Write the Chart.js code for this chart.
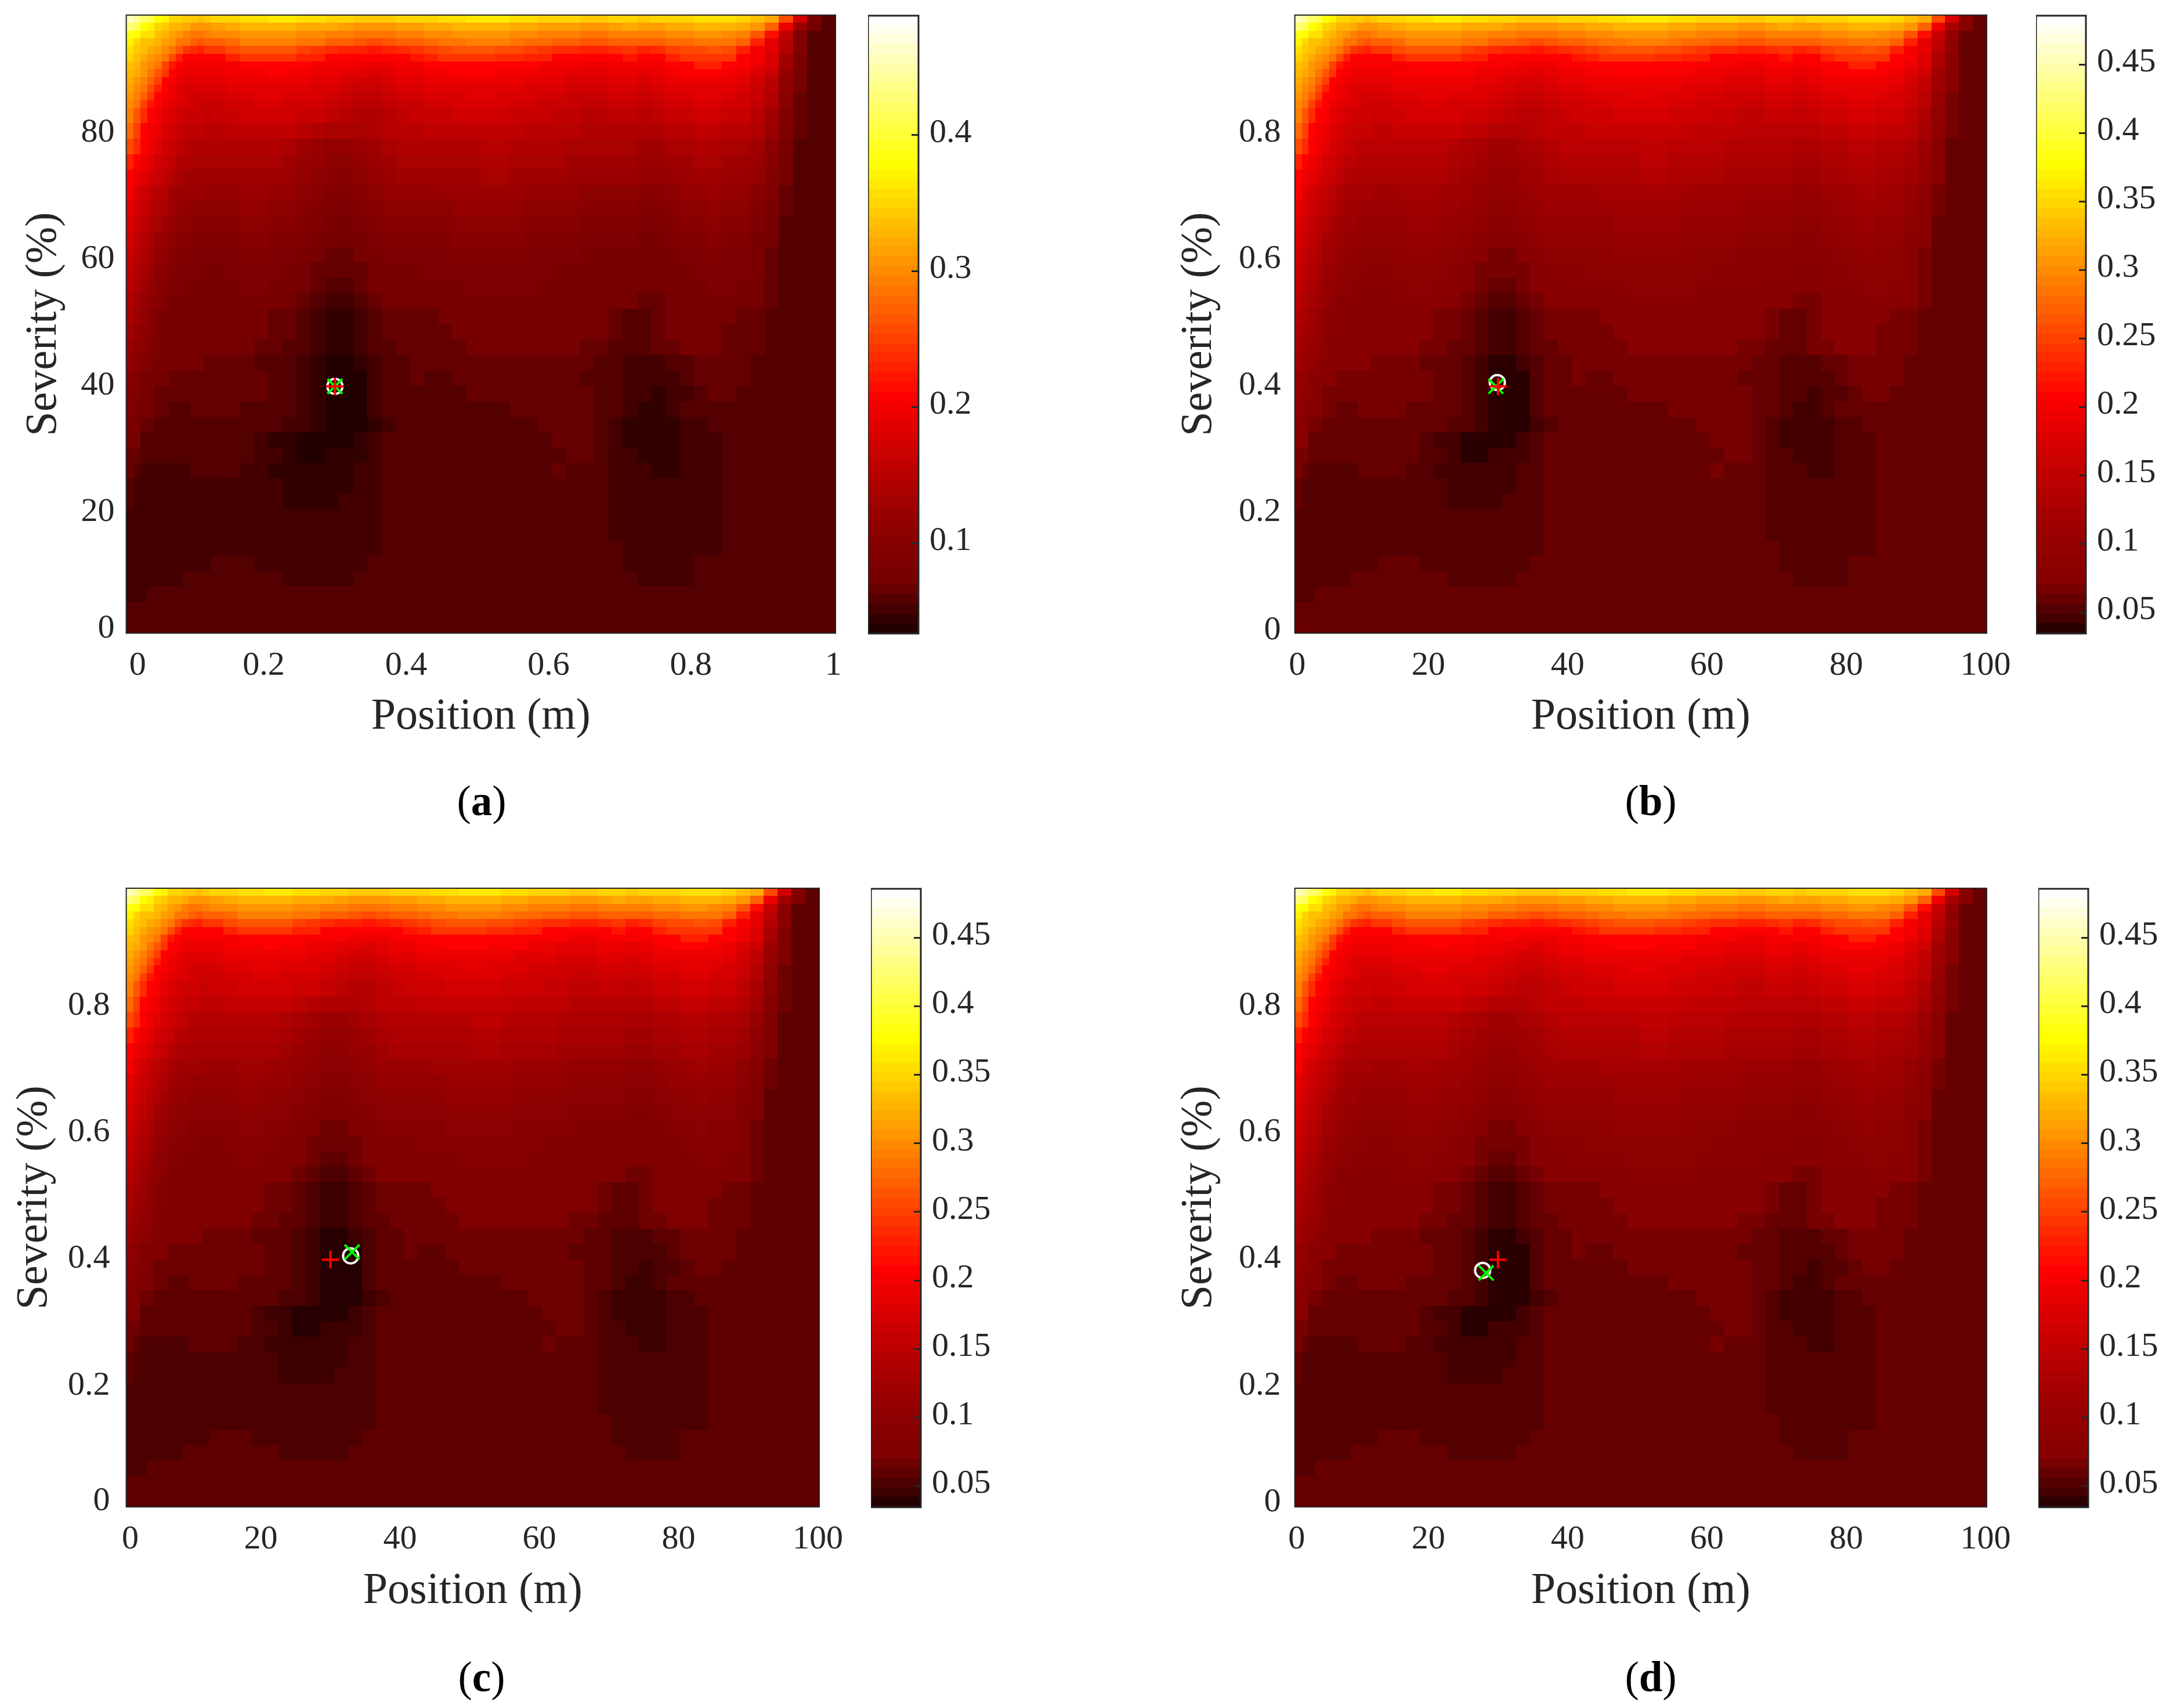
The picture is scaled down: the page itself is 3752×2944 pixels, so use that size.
<!DOCTYPE html>
<html><head><meta charset="utf-8">
<style>
html,body{margin:0;padding:0;background:#fff}
body{position:relative;width:3752px;height:2944px;overflow:hidden}
canvas{position:absolute}
.cap{position:absolute;transform:translate(-50%,-50%);font:73px "Liberation Serif",serif;color:#000}
</style>
<script src="https://cdn.jsdelivr.net/npm/chart.js@4/dist/chart.umd.min.js"></script>
</head><body>
<script>
// Grid column / row boundaries, in original heat-map cells (100 x 80).
const columnEnds=[1,2,3,4,5,6,7,8,9,10,11,12,14,16,18,20,22,24,26,28,30,32,34,36,38,40,42,44,46,48,50,52,54,56,58,60,62,64,66,68,70,72,74,76,78,80,82,84,86,88,90,92,94,96,98,100];
const rowEnds=[1,2,3,4,5,6,7,8,9,10,11,12,14,16,18,20,22,24,26,28,30,32,34,36,38,40,42,44,46,48,50,52,54,56,58,60,62,64,66,68,70,72,74,76,78,80];
const errorLevels=[
[59,57,54,53,48,47,44,44,43,43,42,43, 44,44,45,45,46,46,45,45,44,44,43,43,43,44, 44,44,45,45,46,46,46,45,45,44,44,44,43,43,44,44, 43,44,44,44,45,45,45,44,42,40,31,19,6,3],
[55,53,48,47,44,43,41,41,40,38,38,38, 39,40,41,41,41,41,40,40,40,39,38,38,38,39, 39,40,40,41,41,41,41,40,40,39,39,39,38,38,39,40, 39,39,40,40,41,41,41,40,38,33,22,12,5,3],
[49,48,45,45,42,41,39,38,36,35,35,36, 37,37,38,38,38,38,37,37,36,36,35,35,35,36, 36,37,37,38,38,38,38,37,37,36,36,36,35,35,36,36, 36,36,37,37,38,38,37,36,32,25,17,8,3,3],
[47,44,42,42,41,39,38,35,35,33,32,33, 33,34,36,36,36,36,35,35,33,33,32,31,32,33, 33,34,35,35,36,36,36,35,34,34,33,33,32,32,33,33, 33,33,34,34,35,35,35,33,27,21,16,7,3,3],
[45,43,42,40,39,37,35,32,29,28,27,29, 29,31,32,32,32,32,30,29,28,27,27,26,27,28, 29,30,31,32,32,32,31,31,30,29,28,28,27,27,28,29, 27,28,30,31,31,32,31,27,23,21,15,8,3,3],
[44,42,40,38,37,35,31,27,24,24,24,24, 24,27,29,29,29,29,27,27,24,24,24,24,24,24, 26,27,29,29,29,29,28,28,27,27,24,24,24,24,24,26, 24,24,27,29,29,29,29,24,23,20,13,6,3,3],
[42,41,38,37,35,30,26,24,23,23,23,23, 23,23,24,24,24,24,24,23,23,23,22,22,22,23, 23,24,24,24,24,24,24,24,24,23,23,23,22,22,23,23, 23,23,24,24,27,27,24,24,22,20,13,6,3,3],
[41,40,38,35,32,29,24,23,22,22,22,22, 22,23,23,23,24,23,23,22,22,21,21,20,21,22, 22,23,23,24,24,24,23,23,23,22,22,21,21,21,22,22, 21,22,23,24,24,24,23,22,20,18,11,6,3,3],
[40,38,36,33,30,24,23,22,21,21,21,21, 21,22,22,22,22,22,22,21,21,20,19,19,20,21, 21,22,22,22,22,22,22,22,21,21,21,20,20,20,21,21, 20,21,22,22,22,22,22,21,19,16,10,5,3,3],
[39,37,35,31,27,24,22,21,20,20,20,20, 20,21,21,21,21,21,21,20,20,19,18,18,19,20, 20,21,21,21,21,21,21,21,20,20,20,19,19,19,20,20, 19,20,21,21,21,21,21,20,18,16,10,5,3,3],
[38,36,33,29,24,23,22,21,20,19,19,19, 19,20,20,21,21,20,20,20,19,18,17,17,18,19, 19,20,20,20,21,21,20,20,20,19,19,18,18,18,19,19, 18,19,20,20,21,21,20,19,18,15,9,4,3,3],
[37,35,30,26,24,22,21,20,20,19,18,18, 18,19,19,20,20,19,19,19,18,17,16,16,17,18, 18,19,19,20,20,20,20,19,19,18,18,18,17,17,18,18, 17,18,19,19,20,20,19,19,17,15,9,4,3,3],
[36,32,28,24,23,21,20,19,18,18,18,17, 18,18,19,19,19,19,18,18,17,16,15,15,16,17, 18,18,18,19,19,19,19,18,18,18,17,17,16,16,17,17, 16,17,18,18,19,19,18,18,16,13,8,4,3,3],
[34,30,24,23,22,20,19,18,17,17,17,16, 16,17,17,17,17,17,16,15,14,14,14,15,16,16, 16,17,17,17,17,17,17,17,16,16,16,16,15,15,15,15, 15,15,16,16,17,17,16,16,15,12,7,4,3,3],
[31,28,24,22,21,19,18,17,16,15,15,15, 15,15,15,15,15,14,13,12,11,11,12,13,14,15, 15,15,15,15,15,16,16,15,15,15,15,14,14,14,14,14, 13,13,14,14,15,15,14,14,13,10,6,3,3,3],
[27,24,22,21,19,18,17,15,15,14,14,14, 14,14,14,14,14,13,12,11,10,10,11,12,13,14, 14,14,14,14,14,15,15,14,14,14,14,13,13,13,13,13, 12,12,13,13,14,14,13,13,12,9,5,3,3,3],
[24,22,21,19,18,17,15,14,13,13,13,13, 13,13,13,13,13,12,11,10,9,9,10,11,12,13, 13,13,13,13,13,14,14,13,13,13,13,12,12,12,12,12, 11,11,12,12,13,13,12,12,11,8,5,3,3,3],
[23,20,19,17,16,15,13,12,12,12,12,11, 11,11,12,12,11,11,10,9,8,8,9,10,11,11, 11,11,12,12,12,12,12,12,11,11,11,11,10,10,10,10, 9,9,10,11,11,12,11,11,9,7,4,3,3,3],
[21,19,18,16,15,14,12,11,11,10,10,10, 10,10,11,11,10,10,9,8,7,7,8,9,10,10, 10,10,10,11,11,11,11,11,10,10,10,10,9,9,9,9, 8,8,9,10,10,11,10,10,8,6,4,3,3,3],
[20,18,17,15,14,12,11,10,10,9,9,9, 9,9,10,10,9,9,8,7,6,6,7,8,9,9, 9,9,9,10,10,10,10,10,9,9,9,9,8,8,8,8, 7,7,8,9,9,10,9,9,7,5,3,3,3,3],
[19,17,16,14,12,11,10,9,9,8,8,8, 8,8,9,9,8,8,7,6,5,5,6,7,8,8, 8,8,8,9,9,9,9,9,8,8,8,8,7,7,7,7, 6,6,7,8,8,9,8,8,6,5,3,3,3,3],
[18,16,15,13,11,10,9,8,8,7,7,7, 7,7,8,8,7,7,6,5,4,4,5,6,7,7, 7,7,7,8,8,8,8,8,7,7,7,7,6,6,6,6, 6,6,6,7,7,8,7,7,6,4,3,3,3,3],
[17,15,14,12,10,9,8,7,7,7,6,6, 6,7,7,7,7,6,5,4,4,4,4,5,6,6, 6,7,7,7,7,7,7,7,7,7,6,6,6,6,6,6, 5,5,6,6,7,7,7,7,6,4,3,3,3,3],
[16,14,13,11,9,8,7,7,6,6,6,6, 6,6,7,7,6,6,5,4,3,3,4,5,5,6, 6,6,6,6,7,7,7,7,7,6,6,6,6,6,5,5, 5,5,6,6,6,7,7,6,5,4,3,3,3,3],
[15,13,12,10,9,7,6,6,6,5,5,5, 5,6,6,6,6,5,4,3,2,2,3,4,5,5, 5,5,5,5,6,6,6,6,6,5,5,5,5,5,5,5, 4,4,5,5,5,6,6,5,5,4,3,3,3,3],
[14,12,11,9,7,6,5,5,5,5,5,5, 5,5,5,5,4,4,3,2,1,1,2,3,4,4, 4,4,5,5,5,5,5,5,5,5,5,5,5,5,4,3, 3,4,5,5,5,5,5,4,4,3,3,3,3,3],
[13,11,10,9,7,6,5,5,5,5,5,5, 5,5,5,5,4,4,3,2,1,1,2,3,4,4, 4,4,4,5,5,5,5,5,5,5,5,5,5,5,4,3, 3,4,5,5,5,5,4,4,4,3,3,3,3,3],
[12,10,9,8,7,5,5,5,5,5,5,5, 5,5,5,4,4,3,3,2,1,1,2,3,3,4, 4,4,4,4,5,5,5,5,5,5,5,5,4,4,3,3, 3,4,4,5,5,5,4,4,4,3,3,3,3,3],
[11,9,8,7,6,5,5,5,5,5,5,4, 4,4,4,3,3,3,2,1,0,0,1,2,3,3, 4,4,4,4,4,4,4,4,4,4,4,4,4,3,3,2, 2,2,3,3,4,4,4,4,3,3,3,3,3,3],
[9,8,6,5,5,5,4,4,4,4,4,4, 4,4,4,4,3,3,2,1,0,0,0,2,3,3, 4,3,3,4,4,4,4,4,4,4,4,4,3,3,3,2, 2,2,2,3,4,4,4,4,3,3,3,3,3,3],
[8,7,6,5,4,4,4,4,4,4,4,4, 4,4,4,4,3,3,2,1,0,0,0,2,3,3, 3,3,3,3,4,4,4,4,4,4,4,4,4,3,3,2, 2,1,2,2,3,4,4,3,3,3,3,3,3,3],
[7,6,5,5,4,4,3,3,3,4,4,4, 4,4,3,3,3,3,2,1,0,0,0,2,3,3, 3,3,3,3,3,3,3,4,4,4,4,4,4,3,3,2, 1,1,2,3,3,3,3,3,3,3,3,3,3,3],
[6,6,4,4,3,3,3,3,3,3,3,3, 3,3,3,3,3,2,2,1,0,0,0,1,2,3, 3,3,3,3,3,3,3,3,3,4,4,4,4,3,2,1, 1,1,1,2,2,3,3,3,3,3,3,3,3,3],
[5,5,3,3,3,3,3,3,3,3,3,3, 3,3,3,2,1,1,0,0,0,0,1,2,3,3, 3,3,3,3,3,3,3,3,3,3,4,4,4,3,2,1, 1,1,1,2,2,2,3,3,3,3,3,3,3,3],
[4,4,3,3,3,3,3,3,3,3,3,3, 3,3,3,2,2,1,0,0,1,1,1,2,3,3, 3,3,3,3,3,3,3,3,3,3,3,4,4,3,2,2, 1,1,1,2,2,2,3,3,3,3,3,3,3,3],
[4,3,2,2,2,2,2,2,2,3,3,3, 3,3,2,2,1,1,1,1,1,1,2,2,3,3, 3,3,3,3,3,3,3,3,3,3,4,3,3,3,2,2, 2,1,1,2,2,2,3,3,3,3,3,3,3,3],
[3,2,2,2,2,2,2,2,2,2,2,2, 2,2,2,2,2,1,1,1,1,1,2,2,3,3, 3,3,3,3,3,3,3,3,3,3,3,3,3,3,2,2, 2,2,2,2,2,2,3,3,3,3,3,3,3,3],
[3,2,2,2,2,2,2,2,2,2,2,2, 2,2,2,2,2,1,1,1,1,2,2,2,3,3, 3,3,3,3,3,3,3,3,3,3,3,3,3,3,2,2, 2,2,2,2,2,2,3,3,3,3,3,3,3,3],
[2,2,2,2,2,2,2,2,2,2,2,2, 2,2,2,2,2,2,2,2,2,2,2,2,3,3, 3,3,3,3,3,3,3,3,3,3,3,3,3,3,2,2, 2,2,2,2,2,2,3,3,3,3,3,3,3,3],
[2,2,2,2,2,2,2,2,2,2,2,2, 2,2,2,2,2,2,2,2,2,2,2,2,3,3, 3,3,3,3,3,3,3,3,3,3,3,3,3,3,2,2, 2,2,2,2,2,2,3,3,3,3,3,3,3,3],
[2,2,2,2,2,2,2,2,2,2,2,2, 2,2,2,2,2,2,2,2,2,2,2,2,3,3, 3,3,3,3,3,3,3,3,3,3,3,3,3,3,3,2, 2,2,2,2,2,2,3,3,3,3,3,3,3,3],
[2,2,2,2,2,2,2,2,2,2,2,2, 3,3,3,2,2,2,2,2,2,2,2,3,3,3, 3,3,3,3,3,3,3,3,3,3,3,3,3,3,3,2, 2,2,2,2,3,3,3,3,3,3,3,3,3,3],
[2,2,2,2,2,2,2,2,3,3,3,3, 3,3,3,3,3,2,2,2,2,2,3,3,3,3, 3,3,3,3,3,3,3,3,3,3,3,3,3,3,3,3, 2,2,2,2,3,3,3,3,3,3,3,3,3,3],
[2,2,2,3,3,3,3,3,3,3,3,3, 3,3,3,3,3,3,3,3,3,3,3,3,3,3, 3,3,3,3,3,3,3,3,3,3,3,3,3,3,3,3, 3,3,3,3,3,3,3,3,3,3,3,3,3,3],
[3,3,3,3,3,3,3,3,3,3,3,3, 3,3,3,3,3,3,3,3,3,3,3,3,3,3, 3,3,3,3,3,3,3,3,3,3,3,3,3,3,3,3, 3,3,3,3,3,3,3,3,3,3,3,3,3,3],
[3,3,3,3,3,3,3,3,3,3,3,3, 3,3,3,3,3,3,3,3,3,3,3,3,3,3, 3,3,3,3,3,3,3,3,3,3,3,3,3,3,3,3, 3,3,3,3,3,3,3,3,3,3,3,3,3,3]
];
// Darkest colour-bar bands (red channel) seen in each panel.
const darkBandsA=[0x22,0x33,0x44,0x55,0x66,0x77];
const darkBandsB=[0x2a,0x44,0x55,0x66,0x77,0x88];
const darkBandsC=[0x26,0x3c,0x4d,0x5e,0x6f,0x80];
const darkBandsD=[0x2a,0x44,0x55,0x66,0x77,0x88];

const xLabelsPct=['0','20','40','60','80','100'];
const xLabelsM=['0','0.2','0.4','0.6','0.8','1'];
const yLabelsFrac=['0','0.2','0.4','0.6','0.8'];
const yLabelsPct=['0','20','40','60','80'];
const barTicksA=[0.1,0.2,0.3,0.4];
const barTicksB=[0.05,0.1,0.15,0.2,0.25,0.3,0.35,0.4,0.45];

const trueA={x:0.3,y:40},   ringA={x:0.3,y:40},    crossA={x:0.3,y:40};
const trueB={x:30,y:0.4},   ringB={x:29.9,y:0.406},crossB={x:29.7,y:0.4};
const trueC={x:30,y:0.4},   ringC={x:32.9,y:0.406},crossC={x:33.1,y:0.412};
const trueD={x:30,y:0.4},   ringD={x:27.8,y:0.383},crossD={x:28.3,y:0.379};

const INK='#262626', FONT='"Liberation Serif",serif', TICK=58, TITLE=76;
const BANDS=64;

function palette(dark){
  const out=[];
  for(let i=0;i<BANDS;i++){
    let r=255,g=0,b=0;
    if(i<6) r=dark[i];
    else if(i<24) r=Math.round(dark[5]+(255-dark[5])*Math.pow((i-5)/19,1.35));
    else if(i<48) g=Math.round((i-24)*255/24);
    else {g=255;b=Math.round((i-48)*255/15);}
    out.push(`rgb(${r},${g},${b})`);
  }
  return out;
}

function gridCells(xMin,xMax,yMin,yMax){
  const cells=[];
  errorLevels.forEach((row,r)=>{
    const rowStart=r?rowEnds[r-1]:0, rowEnd=rowEnds[r];
    row.forEach((level,c)=>{
      const colStart=c?columnEnds[c-1]:0, colEnd=columnEnds[c];
      const x0=xMin+(xMax-xMin)*colStart/100, x1=xMin+(xMax-xMin)*colEnd/100;
      const y1=yMax-(yMax-yMin)*rowStart/80, y0=yMax-(yMax-yMin)*rowEnd/80;
      cells.push({x:(x0+x1)/2,y:(y0+y1)/2,x0,x1,y0,y1,level});
    });
  });
  return cells;
}

const heatPlugin={id:'heat',beforeDatasetsDraw(chart,args,opts){
  const {ctx,scales:{x,y}}=chart;
  const ds=chart.data.datasets.find(d=>d.label==='Error map');
  ctx.save();
  for(const c of ds.data){
    const l=Math.round(x.getPixelForValue(c.x0)), rr=Math.round(x.getPixelForValue(c.x1));
    const t=Math.round(y.getPixelForValue(c.y1)), b=Math.round(y.getPixelForValue(c.y0));
    ctx.fillStyle=opts.colors[c.level];
    ctx.fillRect(l,t,rr-l,b-t);
  }
  ctx.restore();
},afterDatasetsDraw(chart){
  const {ctx,chartArea:a}=chart;
  ctx.save();ctx.strokeStyle=INK;ctx.lineWidth=2;
  ctx.strokeRect(a.left,a.top,a.right-a.left,a.bottom-a.top);
  ctx.restore();
}};

const barPlugin={id:'bar',beforeDatasetsDraw(chart,args,opts){
  const {ctx,chartArea:a,scales:{y}}=chart;
  const ds=chart.data.datasets[0];
  ctx.save();
  ds.data.forEach(p=>{
    const t=Math.round(y.getPixelForValue(p.y1)), b=Math.round(y.getPixelForValue(p.y0));
    ctx.fillStyle=opts.colors[p.level];
    ctx.fillRect(a.left,t,a.right-a.left,b-t);
  });
  ctx.restore();
},afterDatasetsDraw(chart){
  const {ctx,chartArea:a,scales:{y}}=chart;
  ctx.save();ctx.strokeStyle=INK;ctx.lineWidth=3;
  ctx.strokeRect(a.left,a.top+1,a.right-a.left,a.bottom-a.top);
  y.ticks.forEach(t=>{
    const p=Math.round(y.getPixelForValue(t.value))+0.5;
    ctx.beginPath();ctx.moveTo(a.right-12,p);ctx.lineTo(a.right,p);ctx.stroke();
  });
  ctx.restore();
}};

function addCanvas(left,top,w,h){
  const c=document.createElement('canvas');
  c.width=w;c.height=h;c.style.left=left+'px';c.style.top=top+'px';
  c.style.width=w+'px';c.style.height=h+'px';
  document.body.appendChild(c);return c;
}

function panelChart(p){
  const titleLH=TITLE*1.2, yW=p.left-(p.yTitleX-titleLH/2), pad=16, rightPad=70;
  const canvasLeft=p.left-yW, canvasTop=p.top-pad;
  const xH=p.xTitleY-p.bottom+titleLH/2;
  const canvas=addCanvas(canvasLeft,canvasTop,Math.round(yW+p.right-p.left+rightPad),Math.round(pad+p.bottom-p.top+xH));
  new Chart(canvas,{type:'scatter',
    data:{datasets:[
      {label:'True',data:[p.truth],pointStyle:'cross',pointRadius:15,borderColor:'#ff0000',backgroundColor:'#ff0000',borderWidth:4},
      {label:'Estimate',data:[p.cross],pointStyle:'crossRot',pointRadius:18,borderColor:'#00ff00',backgroundColor:'#00ff00',borderWidth:4},
      {label:'Centroid',data:[p.ring],pointStyle:'circle',pointRadius:13,borderColor:'#ffffff',backgroundColor:'rgba(0,0,0,0)',borderWidth:4},
      {label:'Error map',data:gridCells(p.xMin,p.xMax,p.yMin,p.yMax),pointRadius:0,pointHoverRadius:0}
    ]},
    plugins:[heatPlugin],
    options:{responsive:false,animation:false,events:[],
      layout:{autoPadding:false,padding:{top:pad,right:rightPad,left:0,bottom:0}},
      plugins:{legend:{display:false},tooltip:{enabled:false},heat:{colors:palette(p.dark)}},
      scales:{
        x:{type:'linear',min:p.xMin,max:p.xMax,
          afterBuildTicks:s=>{s.ticks=p.xTicks.map(v=>({value:v}));},
          afterFit:s=>{s.height=xH;s.paddingLeft=0;s.paddingRight=0;},
          grid:{display:false,drawTicks:false},border:{display:false},
          ticks:{color:INK,font:{family:FONT,size:TICK},padding:22,autoSkip:false,maxRotation:0,minRotation:0,
            callback:(v,i)=>p.xLabels[i]},
          title:{display:true,text:'Position (m)',color:INK,font:{family:FONT,size:TITLE,lineHeight:1.2},padding:0}},
        y:{type:'linear',min:p.yMin,max:p.yMax,
          afterBuildTicks:s=>{s.ticks=p.yTicks.map(v=>({value:v}));},
          afterFit:s=>{s.width=yW;s.paddingTop=0;s.paddingBottom=0;},
          grid:{display:false,drawTicks:false},border:{display:false},
          ticks:{color:INK,font:{family:FONT,size:TICK},padding:p.yPad,autoSkip:false,labelOffset:-1,
            callback:(v,i)=>p.yLabels[i]},
          title:{display:true,text:'Severity (%)',color:INK,font:{family:FONT,size:TITLE,lineHeight:1.2},padding:0}}
      }}});
  // colour bar
  const bw=p.barRight-p.barLeft-3, pt=10, rp=230;
  const barCanvas=addCanvas(p.barLeft+1,p.top-pt,bw+rp,pt+p.bottom-p.top+40);
  const bandH=(p.barMax-p.barMin)/BANDS;
  const bands=[];
  for(let i=0;i<BANDS;i++) bands.push({x:0.5,y:p.barMin+(i+.5)*bandH,y0:p.barMin+i*bandH,y1:p.barMin+(i+1)*bandH,level:i});
  new Chart(barCanvas,{type:'scatter',
    data:{datasets:[{label:'Colour bar',data:bands,pointRadius:0,pointHoverRadius:0}]},
    plugins:[barPlugin],
    options:{responsive:false,animation:false,events:[],
      layout:{autoPadding:false,padding:{top:pt,right:0,left:0,bottom:40}},
      plugins:{legend:{display:false},tooltip:{enabled:false},bar:{colors:palette(p.dark)}},
      scales:{
        x:{type:'linear',min:0,max:1,display:false},
        y:{type:'linear',position:'right',min:p.barMin,max:p.barMax,
          afterBuildTicks:s=>{s.ticks=p.barTicks.map(v=>({value:v}));},
          afterFit:s=>{s.width=rp;s.paddingTop=0;s.paddingBottom=0;},
          grid:{display:false,drawTicks:false},border:{display:false},
          ticks:{color:INK,font:{family:FONT,size:TICK},padding:19,autoSkip:false,labelOffset:-3,
            callback:v=>String(+v.toFixed(2))}}
      }}});
  const cap=document.createElement('div');
  cap.className='cap';cap.style.left=p.capX+'px';cap.style.top=p.capY+'px';
  cap.innerHTML='(<b>'+p.cap+'</b>)';
  document.body.appendChild(cap);
}

panelChart({cap:'a',left:218,right:1440,top:26,bottom:1091,xMin:0.007,xMax:1.003,yMin:0.98,yMax:98.7,yPad:20,
  xTicks:[0.023,0.2,0.4,0.6,0.8,1],xLabels:xLabelsM,yTicks:[1.62,20,40,60,80],yLabels:yLabelsPct,
  truth:trueA,ring:ringA,cross:crossA,dark:darkBandsA,yTitleX:76,xTitleY:1236,
  barLeft:1495,barRight:1585,barMin:0.0337,barMax:0.488,barTicks:barTicksA,capX:830,capY:1381});
panelChart({cap:'b',left:2232,right:3424,top:26,bottom:1091,xMin:0.83,xMax:100.17,yMin:0.0098,yMax:0.987,yPad:24,
  xTicks:[1.17,20,40,60,80,100],xLabels:xLabelsPct,yTicks:[0.0133,0.2,0.4,0.6,0.8],yLabels:yLabelsFrac,
  truth:trueB,ring:ringB,cross:crossB,dark:darkBandsB,yTitleX:2067,xTitleY:1236,
  barLeft:3508,barRight:3597,barMin:0.0347,barMax:0.486,barTicks:barTicksB,capX:2845,capY:1381});
panelChart({cap:'c',left:218,right:1412,top:1531,bottom:2597,xMin:0.67,xMax:100.2,yMin:0.0092,yMax:0.987,yPad:28,
  xTicks:[1.25,20,40,60,80,100],xLabels:xLabelsPct,yTicks:[0.0174,0.2,0.4,0.6,0.8],yLabels:yLabelsFrac,
  truth:trueC,ring:ringC,cross:crossC,dark:darkBandsC,yTitleX:60,xTitleY:2743,
  barLeft:1500,barRight:1589,barMin:0.0347,barMax:0.486,barTicks:barTicksB,capX:830,capY:2891});
panelChart({cap:'d',left:2232,right:3424,top:1531,bottom:2597,xMin:0.83,xMax:100.17,yMin:0.0092,yMax:0.987,yPad:24,
  xTicks:[1.1,20,40,60,80,100],xLabels:xLabelsPct,yTicks:[0.0156,0.2,0.4,0.6,0.8],yLabels:yLabelsFrac,
  truth:trueD,ring:ringD,cross:crossD,dark:darkBandsD,yTitleX:2067,xTitleY:2743,
  barLeft:3512,barRight:3601,barMin:0.0347,barMax:0.486,barTicks:barTicksB,capX:2845,capY:2891});
</script>
</body></html>
